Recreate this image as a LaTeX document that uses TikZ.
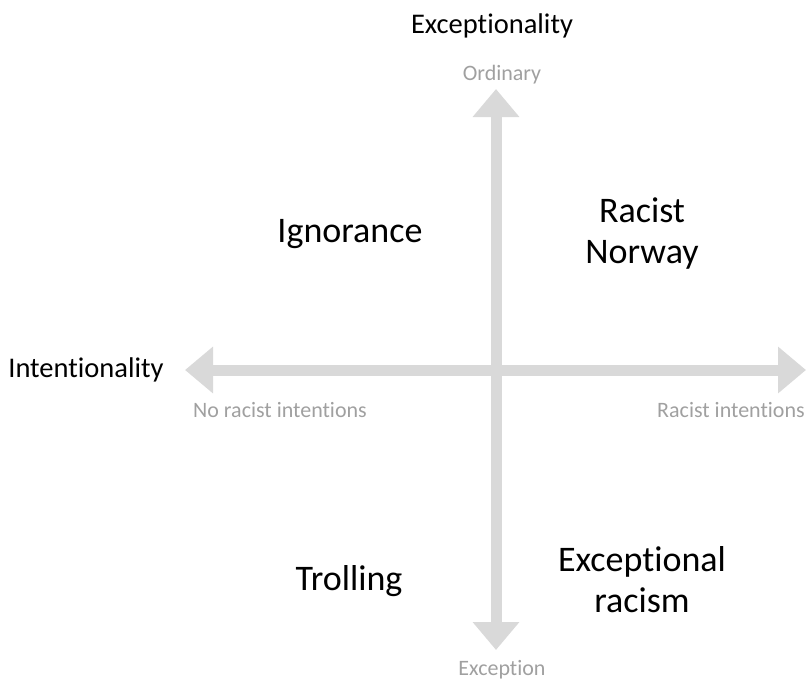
\documentclass[tikz,border=0pt]{standalone}
\usepackage{fontspec}
\setmainfont{Carlito}[Ligatures=NoCommon]
\usetikzlibrary{arrows.meta}
\definecolor{axisgray}{RGB}{217,217,217}
\definecolor{labelgray}{RGB}{160,160,160}
\begin{document}
\begin{tikzpicture}[x=1pt,y=-1pt,
    axis/.style={draw=axisgray, line width=11pt,
      {Triangle[length=28pt,width=45pt]}-{Triangle[length=28pt,width=45pt]}},
    axisname/.style={anchor=base, font=\fontsize{28.5}{34}\selectfont},
    pole/.style={anchor=base, text=labelgray, font=\fontsize{22}{26}\selectfont},
    quadrant/.style={anchor=base, align=center, font=\fontsize{36}{41}\selectfont}]
    \useasboundingbox (0,0) rectangle (808,680);
    % axes
    \coordinate (top)    at (496,89);
    \coordinate (bottom) at (496,650);
    \coordinate (left)   at (185,370);
    \coordinate (right)  at (806,370);
    \draw[axis] (bottom) -- (top);
    \draw[axis] (left) -- (right);
    % axis names and poles
    \node[axisname] (exc)  at (492,33)  {Exceptionality};
    \node[axisname] (intn) at (86,377)  {Intentionality};
    \node[pole] (ordinary)  at (502,80)  {Ordinary};
    \node[pole] (exception) at (502,675) {Exception};
    \node[pole] (norac)     at (280,417) {No racist intentions};
    \node[pole] (rac)       at (731,417) {Racist intentions};
    % quadrants (base = last line)
    \node[quadrant] (ignorance) at (350,242) {Ignorance};
    \node[quadrant] (norway)    at (642,263) {Racist\\Norway};
    \node[quadrant] (trolling)  at (349,590) {Trolling};
    \node[quadrant] (exracism)  at (642,612) {Exceptional\\racism};
\end{tikzpicture}
\end{document}
